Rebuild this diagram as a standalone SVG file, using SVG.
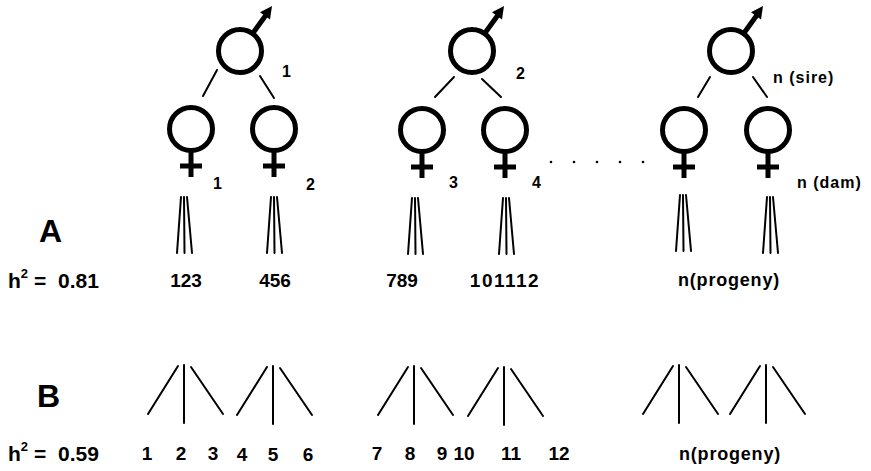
<svg xmlns="http://www.w3.org/2000/svg" xmlns:xlink="http://www.w3.org/1999/xlink" width="871" height="471" viewBox="0 0 871 471">
  <style>
    text { font-family: "Liberation Sans", Arial, sans-serif; font-weight: bold; fill: #000; }
    .big { font-size: 32px; }
    .num { font-size: 19px; }
    .h2 { font-size: 21px; }
    .idx { font-size: 16px; }
    .lbl { font-size: 16px; letter-spacing: 1px; }
    .prog { font-size: 18px; letter-spacing: 0.8px; }
    .sym { fill: none; stroke: #000; stroke-width: 5; }
    .bar { stroke: #000; stroke-width: 5; }
    .ln { stroke: #000; stroke-width: 2; fill: none; stroke-linecap: round; }
  </style>
  <defs>
    <!-- sire (male) symbol centred on its circle -->
    <g id="male">
      <circle class="sym" cx="0" cy="0" r="21.5"/>
      <line class="bar" x1="13" y1="-18" x2="26" y2="-36" stroke-width="4.5"/>
      <polygon points="32,-45 30,-31.5 20,-38.7" fill="#000"/>
    </g>
    <!-- dam (female) symbol centred on its circle -->
    <g id="female">
      <circle class="sym" cx="0" cy="0" r="21.5"/>
      <line class="bar" x1="0" y1="23" x2="0" y2="48"/>
      <line class="bar" x1="-11" y1="37" x2="11" y2="37"/>
    </g>
    <!-- full-sib progeny bundle (design A) -->
    <g id="bundle">
      <line class="ln" x1="-3" y1="0" x2="-7" y2="56"/>
      <line class="ln" x1="0" y1="0" x2="0.5" y2="56"/>
      <line class="ln" x1="3" y1="0" x2="8" y2="56"/>
    </g>
    <!-- half-sib progeny fan (design B) -->
    <g id="fan">
      <line class="ln" x1="-6" y1="0" x2="-36" y2="48"/>
      <line class="ln" x1="0" y1="-1" x2="0" y2="57"/>
      <line class="ln" x1="7" y1="1" x2="39" y2="48"/>
    </g>
  </defs>

  <!-- sires -->
  <g id="sire1"><use xlink:href="#male" transform="translate(240,51)"/><text class="idx" x="282" y="77">1</text></g>
  <g id="sire2"><use xlink:href="#male" transform="translate(472,51)"/><text class="idx" x="516" y="79">2</text></g>
  <g id="sireN"><use xlink:href="#male" transform="translate(731,51)"/><text class="lbl" x="773" y="83">n (sire)</text></g>

  <!-- dams -->
  <g id="dam1"><use xlink:href="#female" transform="translate(191,129)"/><text class="idx" x="213" y="189">1</text></g>
  <g id="dam2"><use xlink:href="#female" transform="translate(274,129)"/><text class="idx" x="306" y="190">2</text></g>
  <g id="dam3"><use xlink:href="#female" transform="translate(422,130)"/><text class="idx" x="449" y="188">3</text></g>
  <g id="dam4"><use xlink:href="#female" transform="translate(505,130)"/><text class="idx" x="532" y="188">4</text></g>
  <g id="damN1"><use xlink:href="#female" transform="translate(684,130)"/></g>
  <g id="damN2"><use xlink:href="#female" transform="translate(768,130)"/><text class="lbl" x="797" y="188">n (dam)</text></g>

  <!-- ellipsis between families -->
  <g id="ellipsis" fill="#000">
    <circle cx="551" cy="162" r="1.3"/>
    <circle cx="574" cy="162" r="1.3"/>
    <circle cx="597" cy="162" r="1.3"/>
    <circle cx="620" cy="162" r="1.3"/>
    <circle cx="643" cy="162" r="1.3"/>
  </g>

  <!-- design A: progeny per dam -->
  <g id="progenyA">
    <text class="big" x="39" y="242">A</text>
    <text class="h2" x="8" y="288">h<tspan font-size="13" dy="-10">2</tspan><tspan dy="10" x="34">=</tspan><tspan x="58">0.81</tspan></text>
    <text class="num" x="186" y="287" text-anchor="middle">123</text>
    <text class="num" x="275" y="287" text-anchor="middle">456</text>
    <text class="num" x="402" y="287" text-anchor="middle">789</text>
    <text class="num" x="505" y="287" text-anchor="middle" letter-spacing="1.5">101112</text>
    <text class="prog" x="729" y="286" text-anchor="middle">n(progeny)</text>
  </g>

  <!-- design B: progeny per sire -->
  <g id="progenyB">
    <text class="big" x="37" y="407">B</text>
    <text class="h2" x="8" y="461">h<tspan font-size="13" dy="-10">2</tspan><tspan dy="10" x="34">=</tspan><tspan x="58">0.59</tspan></text>
    <g text-anchor="middle">
      <text class="num" x="147" y="460">1</text>
      <text class="num" x="181" y="460">2</text>
      <text class="num" x="213" y="460">3</text>
      <text class="num" x="242" y="461">4</text>
      <text class="num" x="273" y="461">5</text>
      <text class="num" x="308" y="461">6</text>
      <text class="num" x="377" y="460">7</text>
      <text class="num" x="410" y="460">8</text>
      <text class="num" x="442" y="460">9</text>
      <text class="num" x="464" y="460">10</text>
      <text class="num" x="511" y="460">11</text>
      <text class="num" x="559" y="460">12</text>
    </g>
    <text class="prog" x="730" y="460" text-anchor="middle">n(progeny)</text>
  </g>

  <!-- connectors -->
  <g id="connectors">
    <g class="ln" stroke-width="2.2">
      <line x1="217" y1="70" x2="203" y2="96"/>
      <line x1="260" y1="76" x2="274" y2="98"/>
      <line x1="454" y1="77" x2="435" y2="97"/>
      <line x1="482" y1="79" x2="501" y2="97"/>
      <line x1="710" y1="77" x2="698" y2="97"/>
      <line x1="753" y1="77" x2="767" y2="97"/>
    </g>
    <use xlink:href="#bundle" transform="translate(184,197)"/>
    <use xlink:href="#bundle" transform="translate(274,197)"/>
    <use xlink:href="#bundle" transform="translate(415,198)"/>
    <use xlink:href="#bundle" transform="translate(506,198)"/>
    <use xlink:href="#bundle" transform="translate(683,195)"/>
    <use xlink:href="#bundle" transform="translate(770,197)"/>
    <use xlink:href="#fan" transform="translate(184,366)"/>
    <use xlink:href="#fan" transform="translate(273,367)"/>
    <use xlink:href="#fan" transform="translate(414,367)"/>
    <use xlink:href="#fan" transform="translate(504,368)"/>
    <use xlink:href="#fan" transform="translate(679,366)"/>
    <use xlink:href="#fan" transform="translate(766,366)"/>
  </g>
</svg>
